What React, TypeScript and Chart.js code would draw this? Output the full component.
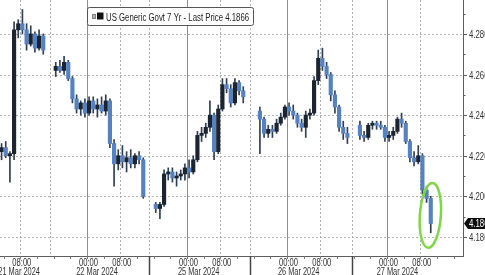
import React, { useEffect, useRef } from "react";
import { Chart, registerables } from "chart.js";

Chart.register(...registerables);

// ---- data (hours on a compressed trading-time axis, 0 = 21 Mar 00:00) ----
const candleHours = [
  2.5, 3.5, 4.5, 5.5, 6.5, 7.5, 8.5, 9.5, 10.5, 11.5, 12.5, 13.5,
  16.5, 17.5, 18.5, 19.5, 20.5, 21.5, 22.5, 23.5, 24.5, 25.5, 26.5, 27.5, 28.5, 29.5, 30.5, 31.5, 32.5, 33.5, 34.5, 35.5, 36.5, 37.5,
  40.5, 41.5, 42.5, 43.5, 44.5, 45.5, 46.5, 47.5, 48.5, 49.5, 50.5, 51.5, 52.5, 53.5, 54.5, 55.5, 56.5, 57.5, 58.5, 59.5, 60.5, 61.5,
  65.5, 66.5, 67.5, 68.5, 69.5, 70.5, 71.5, 72.5, 73.5, 74.5, 75.5, 76.5, 77.5, 78.5, 79.5, 80.5, 81.5, 82.5, 83.5, 84.5, 85.5, 86.5,
  89.5, 90.5, 91.5, 92.5, 93.5, 94.5, 95.5, 96.5, 97.5, 98.5, 99.5, 100.5, 101.5, 102.5, 103.5, 104.5, 105.5, 106.5,
];
const opens = [
  4.224, 4.222, 4.224, 4.220, 4.221, 4.282, 4.285, 4.282, 4.275, 4.280, 4.273, 4.279,
  4.262, 4.264, 4.262, 4.266, 4.258, 4.248, 4.243, 4.246, 4.241, 4.247, 4.243, 4.245, 4.242, 4.247, 4.226, 4.216, 4.220, 4.217, 4.219, 4.216, 4.220, 4.218,
  4.196, 4.194, 4.196, 4.211, 4.212, 4.209, 4.210, 4.211, 4.214, 4.212, 4.218, 4.230, 4.231, 4.234, 4.240, 4.222, 4.243, 4.255, 4.253, 4.246, 4.256, 4.252,
  4.242, 4.238, 4.231, 4.233, 4.232, 4.236, 4.239, 4.244, 4.242, 4.240, 4.236, 4.234, 4.240, 4.241, 4.257, 4.268, 4.264, 4.260, 4.250, 4.244, 4.234, 4.231,
  4.235, 4.230, 4.229, 4.235, 4.236, 4.235, 4.234, 4.229, 4.230, 4.232, 4.238, 4.236, 4.227, 4.219, 4.217, 4.220, 4.203, 4.199,
];
const highs = [
  4.228, 4.226, 4.227, 4.222, 4.286, 4.287, 4.292, 4.285, 4.284, 4.281, 4.282, 4.280,
  4.266, 4.267, 4.269, 4.267, 4.259, 4.250, 4.247, 4.248, 4.249, 4.249, 4.248, 4.249, 4.250, 4.248, 4.228, 4.223, 4.225, 4.222, 4.223, 4.221, 4.222, 4.219,
  4.197, 4.197, 4.213, 4.214, 4.214, 4.212, 4.213, 4.216, 4.218, 4.220, 4.232, 4.234, 4.236, 4.247, 4.241, 4.245, 4.258, 4.258, 4.255, 4.258, 4.257, 4.254,
  4.244, 4.239, 4.235, 4.235, 4.238, 4.241, 4.245, 4.246, 4.245, 4.241, 4.238, 4.242, 4.243, 4.259, 4.272, 4.273, 4.266, 4.261, 4.252, 4.245, 4.237, 4.234,
  4.237, 4.232, 4.236, 4.237, 4.237, 4.237, 4.235, 4.232, 4.234, 4.239, 4.241, 4.237, 4.228, 4.222, 4.225, 4.221, 4.205, 4.200,
];
const lows = [
  4.220, 4.218, 4.219, 4.207, 4.218, 4.278, 4.280, 4.272, 4.274, 4.271, 4.272, 4.270,
  4.259, 4.261, 4.260, 4.257, 4.246, 4.241, 4.240, 4.239, 4.240, 4.241, 4.239, 4.241, 4.240, 4.224, 4.205, 4.213, 4.214, 4.212, 4.214, 4.214, 4.216, 4.199,
  4.192, 4.189, 4.195, 4.208, 4.207, 4.205, 4.208, 4.208, 4.209, 4.211, 4.217, 4.227, 4.229, 4.232, 4.218, 4.221, 4.242, 4.251, 4.244, 4.245, 4.250, 4.246,
  4.221, 4.229, 4.229, 4.229, 4.231, 4.235, 4.238, 4.240, 4.238, 4.234, 4.232, 4.229, 4.238, 4.240, 4.255, 4.262, 4.258, 4.247, 4.241, 4.232, 4.228, 4.226,
  4.228, 4.227, 4.228, 4.233, 4.233, 4.233, 4.227, 4.227, 4.228, 4.231, 4.234, 4.226, 4.217, 4.215, 4.216, 4.201, 4.197, 4.182,
];
const closes = [
  4.222, 4.224, 4.220, 4.221, 4.282, 4.285, 4.282, 4.275, 4.280, 4.273, 4.279, 4.272,
  4.264, 4.262, 4.266, 4.258, 4.248, 4.243, 4.246, 4.241, 4.247, 4.243, 4.245, 4.242, 4.247, 4.226, 4.216, 4.220, 4.217, 4.219, 4.216, 4.220, 4.218, 4.200,
  4.194, 4.196, 4.211, 4.212, 4.209, 4.210, 4.211, 4.214, 4.212, 4.218, 4.230, 4.231, 4.234, 4.240, 4.222, 4.243, 4.255, 4.253, 4.246, 4.256, 4.252, 4.249,
  4.238, 4.231, 4.233, 4.232, 4.236, 4.239, 4.244, 4.242, 4.240, 4.236, 4.234, 4.240, 4.241, 4.257, 4.268, 4.264, 4.260, 4.250, 4.244, 4.234, 4.231, 4.229,
  4.230, 4.229, 4.235, 4.236, 4.235, 4.234, 4.229, 4.230, 4.232, 4.238, 4.236, 4.227, 4.219, 4.217, 4.220, 4.203, 4.199, 4.1866,
];

const xMin = 3.12;
const xMax = 114.24;
const yMin = 4.1706;
const yMax = 4.2967;

const yMajorTicks = [4.18, 4.2, 4.22, 4.24, 4.26, 4.28];
const yTickLabels = ["4.180", "4.200", "4.220", "4.240", "4.260", "4.280"];
const yMinorTicks = [4.19, 4.21, 4.23, 4.25, 4.27, 4.29];

const midnightHours = [24, 48, 72, 96];
const eightAmHours = [8, 32, 56, 80, 104];
const sessionBreakHours = [15, 38.9, 63.1, 87.6];
const timeTickHours = [8, 24, 32, 48, 56, 72, 80, 96, 104];
const timeTickLabels = ["08:00", "00:00", "08:00", "00:00", "08:00", "00:00", "08:00", "00:00", "08:00"];
const minorTimeTickHours = [
  4, 8, 12, 16, 20, 24, 28, 32, 36, 40, 44, 48, 52, 56, 60, 64, 68, 72, 76, 80, 84, 88, 92, 96, 100, 104, 108, 112,
];
const dateLabels = ["21 Mar 2024", "22 Mar 2024", "25 Mar 2024", "26 Mar 2024", "27 Mar 2024"];
const dateLabelHours = [7.7, 26.4, 50.8, 74.8, 98.5];

const legendText = "US Generic Govt 7 Yr - Last Price 4.1866";
const lastPrice = 4.1866;
const lastPriceLabel = "4.186";
const highlightHour = 106.4;
const highlightPrice = 4.1906;

const UP = "#1c2430";
const DOWN = "#5482c2";
const WICK = "#2e3f58";
const FONT = '10px "Liberation Sans", Arial, sans-serif';

function drawText(
  ctx: CanvasRenderingContext2D,
  s: string,
  x: number,
  y: number,
  align: "left" | "center" | "right",
  color: string,
  sx: number
) {
  ctx.save();
  ctx.font = FONT;
  ctx.fillStyle = color;
  ctx.textAlign = "left";
  ctx.textBaseline = "alphabetic";
  const w = ctx.measureText(s).width * sx;
  const x0 = align === "center" ? x - w / 2 : align === "right" ? x - w : x;
  ctx.translate(x0, y);
  ctx.scale(sx, 1);
  ctx.fillText(s, 0, 0);
  ctx.restore();
}

function seg(ctx: CanvasRenderingContext2D, x1: number, y1: number, x2: number, y2: number) {
  ctx.beginPath();
  ctx.moveTo(x1, y1);
  ctx.lineTo(x2, y2);
  ctx.stroke();
}

const overlay = {
  id: "overlay",
  beforeDatasetsDraw(chart: any) {
    const { ctx, chartArea: a } = chart;
    const xs = chart.scales.x;
    const ys = chart.scales.y;
    ctx.save();
    ctx.lineWidth = 1;
    ctx.strokeStyle = "#b2b2b2";
    ctx.setLineDash([2, 2]);
    yMajorTicks.forEach((v) => {
      const py = Math.round(ys.getPixelForValue(v)) + 0.5;
      seg(ctx, a.left, py, a.right, py);
    });
    [...eightAmHours, ...sessionBreakHours].forEach((h) => {
      const px = Math.round(xs.getPixelForValue(h)) + 0.5;
      seg(ctx, px, a.top, px, a.bottom);
    });
    ctx.setLineDash([]);
    ctx.strokeStyle = "#8e8e8e";
    midnightHours.forEach((h) => {
      const px = Math.round(xs.getPixelForValue(h)) + 0.5;
      seg(ctx, px, a.top, px, a.bottom);
    });
    ctx.restore();
  },
  afterDatasetsDraw(chart: any) {
    const { ctx, chartArea: a } = chart;
    const xs = chart.scales.x;
    const ys = chart.scales.y;
    ctx.save();
    ctx.lineWidth = 1;
    ctx.strokeStyle = "#5e5e5e";
    // axes
    seg(ctx, 0, a.bottom + 0.5, a.right + 1, a.bottom + 0.5);
    seg(ctx, a.right + 0.5, 0, a.right + 0.5, a.bottom + 1);
    // y ticks
    yMajorTicks.forEach((v, i) => {
      const py = Math.round(ys.getPixelForValue(v)) + 0.5;
      seg(ctx, a.right, py, a.right + 4, py);
      drawText(ctx, yTickLabels[i], a.right + 6, py + 3.5, "left", "#333", 0.78);
    });
    yMinorTicks.forEach((v) => {
      const py = Math.round(ys.getPixelForValue(v)) + 0.5;
      seg(ctx, a.right, py, a.right + 2.5, py);
    });
    // x ticks
    ctx.strokeStyle = "#777";
    minorTimeTickHours.forEach((h) => {
      const px = Math.round(xs.getPixelForValue(h)) + 0.5;
      if (px < a.left || px > a.right) return;
      seg(ctx, px, a.bottom, px, a.bottom + 3);
    });
    ctx.strokeStyle = "#444";
    ctx.lineWidth = 1.5;
    sessionBreakHours.forEach((h, i) => {
      if (i === 0) return;
      const px = Math.round(xs.getPixelForValue(h)) + 0.5;
      seg(ctx, px, a.bottom, px, chart.height);
    });
    ctx.lineWidth = 1;
    timeTickHours.forEach((h, i) => {
      const px = xs.getPixelForValue(h);
      drawText(ctx, timeTickLabels[i], px + 1.5, a.bottom + 10, "center", "#333", 0.76);
    });
    dateLabelHours.forEach((h, i) => {
      const px = xs.getPixelForValue(h);
      drawText(ctx, dateLabels[i], px, a.bottom + 19, "center", "#333", 0.74);
    });
    // legend
    ctx.fillStyle = "#fff";
    ctx.strokeStyle = "#555";
    ctx.beginPath();
    (ctx as any).roundRect(87.5, 7.5, 166, 18, 2);
    ctx.fill();
    ctx.stroke();
    ctx.fillStyle = "#b4b4b4";
    ctx.fillRect(92, 14, 4, 5);
    ctx.strokeStyle = "#808080";
    ctx.strokeRect(92.5, 14.5, 3, 4);
    ctx.fillStyle = "#111";
    ctx.fillRect(97, 12.5, 6.5, 7);
    drawText(ctx, legendText, 106, 20.5, "left", "#222", 0.78);
    // last price tag
    const ty = ys.getPixelForValue(lastPrice);
    ctx.fillStyle = "#0d0d0d";
    ctx.beginPath();
    ctx.moveTo(a.right + 1, ty);
    ctx.lineTo(a.right + 5, ty - 5.5);
    ctx.lineTo(chart.width + 5, ty - 5.5);
    ctx.lineTo(chart.width + 5, ty + 5.5);
    ctx.lineTo(a.right + 5, ty + 5.5);
    ctx.closePath();
    ctx.fill();
    drawText(ctx, lastPriceLabel, a.right + 6, ty + 3.5, "left", "#fff", 0.78);
    // highlight ellipse
    ctx.strokeStyle = "#7fd843";
    ctx.lineWidth = 2.5;
    ctx.beginPath();
    ctx.ellipse(xs.getPixelForValue(highlightHour), ys.getPixelForValue(highlightPrice), 10.5, 32.5, 0.07, 0, Math.PI * 2);
    ctx.stroke();
    ctx.restore();
  },
};

export default function App() {
  const ref = useRef<HTMLCanvasElement>(null);
  useEffect(() => {
    document.body.style.margin = "0";
    const canvas = ref.current!;
    const chart = new Chart(canvas, {
      type: "bar",
      data: {
        datasets: [
          {
            label: "Body",
            data: candleHours.map((h, i) => ({ x: h, y: [opens[i], closes[i]] })) as any,
            backgroundColor: candleHours.map((_, i) => (closes[i] >= opens[i] ? UP : DOWN)),
            barThickness: 3.5,
            grouped: false,
            minBarLength: 1,
            borderWidth: 0,
          } as any,
          {
            label: "Range",
            data: candleHours.map((h, i) => ({ x: h, y: [lows[i], highs[i]] })) as any,
            backgroundColor: WICK,
            barThickness: 1,
            grouped: false,
            borderWidth: 0,
          } as any,
        ],
      },
      options: {
        responsive: false,
        animation: false,
        devicePixelRatio: 1,
        events: [],
        layout: { padding: { left: 0, right: 22, top: 0, bottom: 19 } },
        plugins: { legend: { display: false }, tooltip: { enabled: false } },
        scales: {
          x: { type: "linear", min: xMin, max: xMax, offset: false, display: false },
          y: { type: "linear", min: yMin, max: yMax, beginAtZero: false, display: false },
        },
      } as any,
      plugins: [overlay],
    });
    return () => chart.destroy();
  }, []);
  return (
    <div style={{ width: 485, height: 275, overflow: "hidden", position: "relative" }}>
      <canvas ref={ref} width={485} height={275} style={{ display: "block" }} />
    </div>
  );
}
